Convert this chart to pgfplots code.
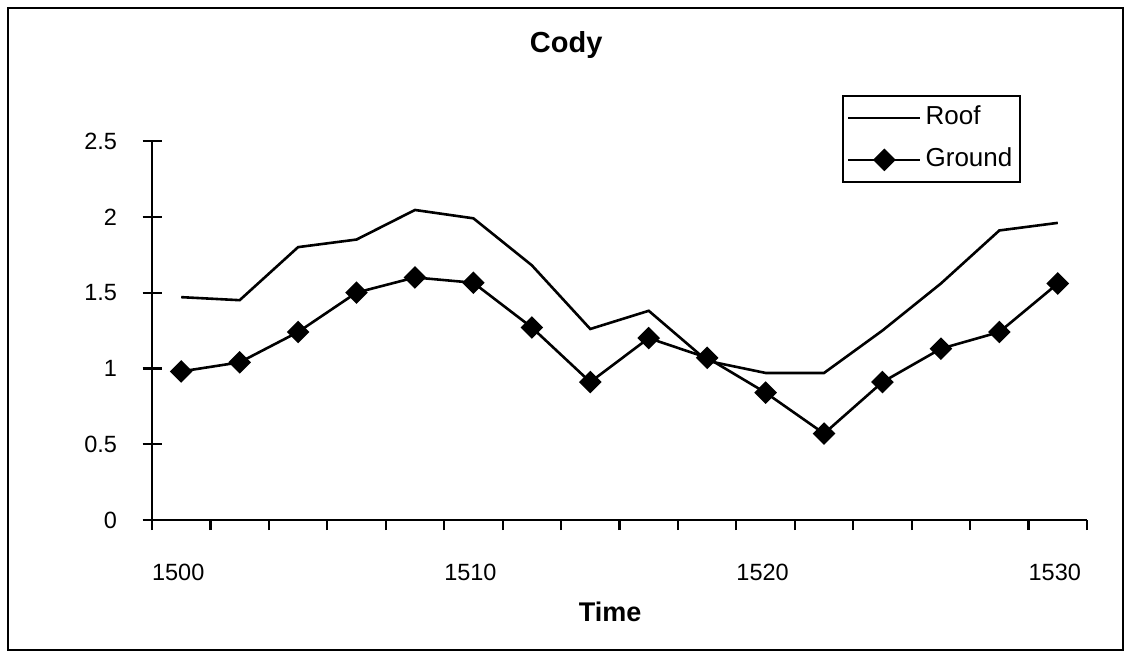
\documentclass[border=0pt]{standalone}
\usepackage{pgfplots}
\pgfplotsset{compat=1.18}
\usepackage{fontspec}
\setmainfont{Liberation Sans}
\begin{document}
\begin{tikzpicture}[x=1pt,y=1pt]
\path[use as bounding box] (0,0) rectangle (1131,657);
\draw[line width=2pt] (8,7) rectangle (1123,649);
\begin{axis}[
  at={(152pt,137pt)}, anchor=origin,
  scale only axis, width=935pt, height=379pt,
  xmin=0, xmax=16, ymin=0, ymax=2.5,
  axis lines*=left,
  axis line style={line width=2.4pt},
  every tick/.style={black, line width=2.2pt},
  xtick={0.5,5.5,10.5,15.5},
  xticklabels={1500,1510,1520,1530},
  major x tick style={draw=none},
  minor xtick={0,1,...,16},
  xtick align=outside,
  major tick length=19pt, minor tick length=10pt,
  xticklabel style={yshift=-22pt, xshift=-3pt},
  ytick={0,0.5,1,1.5,2,2.5},
  yticklabels={0,0.5,1,1.5,2,2.5},
  ytick align=center,
  tick label style={font=\fontsize{23.5}{27}\selectfont},
  yticklabel style={xshift=-22pt},
  /pgf/number format/assume math mode=true,
  title={\bfseries Cody},
  title style={font=\fontsize{29}{33}\selectfont, at={(0.443,1)}, yshift=90pt, anchor=center},
  xlabel={\bfseries Time},
  xlabel style={font=\fontsize{27}{31}\selectfont, at={(0.49,0)}, anchor=center, yshift=-92pt},
  legend style={at={(0.738,1.121)}, anchor=north west, draw=black, line width=2pt,
    font=\fontsize{26}{28}\selectfont, row sep=16pt, inner xsep=4pt, inner ysep=9pt,
    legend cell align=left, nodes={inner xsep=4pt, inner ysep=1pt, text depth=5pt}},
  legend image code/.code={\draw[mark repeat=2,mark phase=2,#1] plot coordinates {(0pt,0pt) (36pt,0pt) (72pt,0pt)};},
]
\addplot[black, line width=2.6pt, mark=none] coordinates {
(0.5,1.47) (1.5,1.45) (2.5,1.80) (3.5,1.85) (4.5,2.045) (5.5,1.99)
(6.5,1.68) (7.5,1.26) (8.5,1.38) (9.5,1.05) (10.5,0.97) (11.5,0.97)
(12.5,1.25) (13.5,1.56) (14.5,1.91) (15.5,1.96)};
\addlegendentry{Roof}
\addplot[black, line width=2.6pt, mark=square*, mark size=6.7pt, mark options={solid, fill=black, rotate=45}] coordinates {
(0.5,0.98) (1.5,1.04) (2.5,1.24) (3.5,1.50) (4.5,1.60) (5.5,1.565)
(6.5,1.27) (7.5,0.91) (8.5,1.20) (9.5,1.07) (10.5,0.84) (11.5,0.57)
(12.5,0.91) (13.5,1.13) (14.5,1.24) (15.5,1.56)};
\addlegendentry{Ground}
\end{axis}
\end{tikzpicture}
\end{document}
